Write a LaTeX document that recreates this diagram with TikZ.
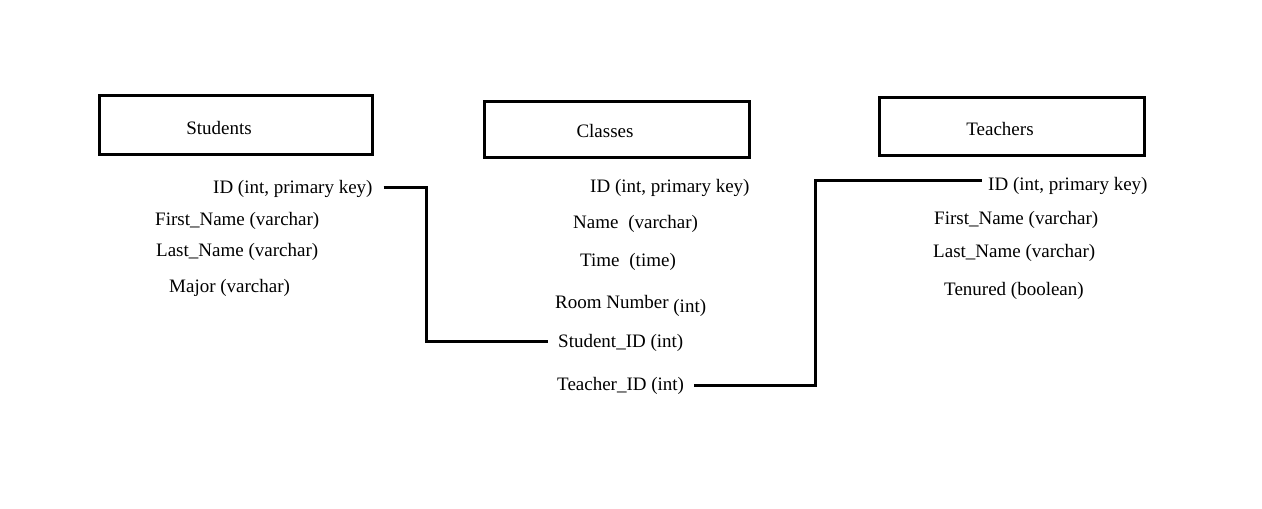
\documentclass[tikz,border=0pt]{standalone}
\usepackage{fontspec}
\setmainfont{Liberation Serif}
\usetikzlibrary{positioning}

\begin{document}
\begin{tikzpicture}[x=1pt, y=-1pt, font=\fontsize{19}{22}\selectfont,
    tablebox/.style = {draw, line width=3pt, inner sep=0pt},
    field/.style = {anchor=base west, inner sep=0pt},
    link/.style = {line width=2.8pt}]
    \useasboundingbox (0,0) rectangle (1262,509);
    % table headers
    \node[tablebox, minimum width=273pt, minimum height=59pt] (stu) at (236,125) {};
    \node[tablebox, minimum width=265pt, minimum height=56pt] (cls) at (617,129) {};
    \node[tablebox, minimum width=265pt, minimum height=58pt] (tea) at (1012,126) {};
    \node (stutitle) at ([xshift=-17pt,yshift=-3pt]stu.center) {Students};
    \node (clstitle) at ([xshift=-12pt,yshift=-2pt]cls.center) {Classes};
    \node (teatitle) at ([xshift=-12pt,yshift=-3pt]tea.center) {Teachers};
    % students fields
    \node[field] (sid) at (213,193) {ID (int, primary key)};
    \node[field] (sfn) at (155,225) {First\_Name (varchar)};
    \node[field] (sln) at (156,256) {Last\_Name (varchar)};
    \node[field] (smj) at (169,292) {Major (varchar)};
    % classes fields
    \node[field] (cid)  at (590,192) {ID (int, primary key)};
    \node[field] (cnm)  at (573,228) {Name\hspace{5pt} (varchar)};
    \node[field] (ctm)  at (580,266) {Time\hspace{5pt} (time)};
    \node[field] (crn)  at (555,308) {Room Number \raisebox{-4pt}{(int)}};
    \node[field] (csid) at (558,347) {Student\_ID (int)};
    \node[field] (ctid) at (557,390) {Teacher\_ID (int)};
    % teachers fields
    \node[field] (tid)  at (988,190) {ID (int, primary key)};
    \node[field] (tfn)  at (934,224) {First\_Name (varchar)};
    \node[field] (tln)  at (933,257) {Last\_Name (varchar)};
    \node[field] (tten) at (944,295) {Tenured (boolean)};
    % keys
    \draw[link] ([xshift=11pt,yshift=3pt]sid.mid east) -- ++(43,0) |- ([xshift=-10pt,yshift=3pt]csid.mid west);
    \draw[link] ([xshift=10pt,yshift=2pt]ctid.mid east) -- ++(121,0) |- ([xshift=-6pt,yshift=7pt]tid.mid west);
\end{tikzpicture}
\end{document}
